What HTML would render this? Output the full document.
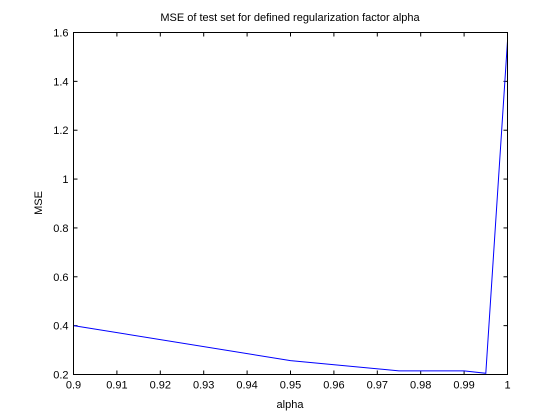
<!DOCTYPE html>
<html><head><meta charset="utf-8"><style>
html,body{margin:0;padding:0;background:#fff;}
svg{display:block;font-family:"Liberation Sans",sans-serif;}
</style></head><body>
<svg id="chart" width="560" height="420">
<rect width="560" height="420" fill="#fff"/>
<text x="290" y="21" font-size="11" text-anchor="middle">MSE of test set for defined regularization factor alpha</text>
<text x="290" y="408" font-size="11" text-anchor="middle">alpha</text>
<text x="0" y="0" font-size="11" text-anchor="middle" transform="translate(42,203) rotate(-90)">MSE</text>
<g id="ticks"></g>
<polyline id="line" fill="none" stroke="#0000ff" stroke-width="1"/>
<rect x="73.5" y="32.5" width="434" height="342" fill="none" stroke="#000" stroke-width="1"/>
</svg>
<script>
const alphaValues=[0.9,0.95,0.975,0.99,0.995,1.0];
const mseValues=[0.40,0.257,0.215,0.215,0.205,1.565];
const xTicks=[0.9,0.91,0.92,0.93,0.94,0.95,0.96,0.97,0.98,0.99,1];
const xTickLabels=["0.9","0.91","0.92","0.93","0.94","0.95","0.96","0.97","0.98","0.99","1"];
const yTicks=[0.2,0.4,0.6,0.8,1,1.2,1.4,1.6];
const yTickLabels=["0.2","0.4","0.6","0.8","1","1.2","1.4","1.6"];
const L=73.5,R=507.5,T=32.5,B=374.5;
function xs(v){return L+(v-0.9)/0.1*(R-L);}
function ys(v){return B-(v-0.2)/1.4*(B-T);}
const NS="http://www.w3.org/2000/svg";
const g=document.getElementById('ticks');
xTicks.forEach((t,i)=>{
  const x=xs(t);
  [[B,B-4],[T,T+4]].forEach(([a,b])=>{
    const l=document.createElementNS(NS,'line');
    l.setAttribute('x1',x);l.setAttribute('x2',x);l.setAttribute('y1',a);l.setAttribute('y2',b);
    l.setAttribute('stroke','#000');
    
    
    g.appendChild(l);
  });
  const tx=document.createElementNS(NS,'text');
  tx.setAttribute('x',x);tx.setAttribute('y',B+14);tx.setAttribute('font-size','11');tx.setAttribute('text-anchor','middle');
  tx.textContent=xTickLabels[i];
  
  
  g.appendChild(tx);
});
yTicks.forEach((t,i)=>{
  const y=ys(t);
  [[L,L+4],[R,R-4]].forEach(([a,b])=>{
    const l=document.createElementNS(NS,'line');
    l.setAttribute('x1',a);l.setAttribute('x2',b);l.setAttribute('y1',y);l.setAttribute('y2',y);
    l.setAttribute('stroke','#000');
    
    
    g.appendChild(l);
  });
  const tx=document.createElementNS(NS,'text');
  tx.setAttribute('x',L-5);tx.setAttribute('y',y+4);tx.setAttribute('font-size','11');tx.setAttribute('text-anchor','end');
  tx.textContent=yTickLabels[i];
  
  
  g.appendChild(tx);
});
document.getElementById('line').setAttribute('points',alphaValues.map((a,i)=>xs(a)+','+ys(mseValues[i])).join(' '));
</script>
</body></html>
